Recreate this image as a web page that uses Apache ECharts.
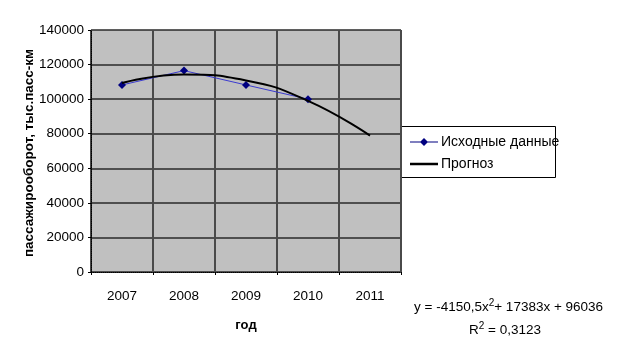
<!DOCTYPE html>
<html><head><meta charset="utf-8">
<script src="https://cdn.jsdelivr.net/npm/echarts@6/dist/echarts.min.js"></script>
<style>html,body{margin:0;padding:0;background:#fff}#c{width:617px;height:363px}</style>
</head><body><div id="c"></div>
<script>
const years = ['2007', '2008', '2009', '2010', '2011'];
const sourceData = [108200, 116500, 108200, 100000, null];
const forecast = [109300, 114200, 110800, 99000, 78900];
const yTicks = [0, 20000, 40000, 60000, 80000, 100000, 120000, 140000];
const yTitle = 'пассажирооборот, тыс.пасс-км';

const chart = echarts.init(document.getElementById('c'), null, {renderer: 'canvas'});
const F = 'Liberation Sans, Arial, sans-serif';
chart.setOption({
  animation: false,
  backgroundColor: '#fff',
  grid: {left: 91, top: 30, width: 310, height: 242, show: true, backgroundColor: '#c0c0c0', borderWidth: 0},
  xAxis: {
    type: 'category', data: years, boundaryGap: true,
    name: 'год', nameLocation: 'middle', nameGap: 47,
    nameTextStyle: {fontFamily: F, fontSize: 13, fontWeight: 'bold', color: '#000'},
    axisLine: {lineStyle: {color: '#000', type: 'dotted', width: 1}},
    axisTick: {show: true, length: 3, lineStyle: {color: '#000'}},
    axisLabel: {fontFamily: F, fontSize: 13.5, color: '#000', margin: 17},
    splitLine: {show: true, lineStyle: {color: '#4a4a4a', width: 2}}
  },
  yAxis: {
    type: 'value', min: yTicks[0], max: yTicks[yTicks.length - 1], interval: 20000,
    axisLine: {show: true, lineStyle: {color: '#000', type: 'dotted', width: 1}},
    axisTick: {show: true, length: 3, lineStyle: {color: '#000'}},
    axisLabel: {fontFamily: F, fontSize: 13.5, color: '#000', margin: 7, formatter: v => String(v)},
    splitLine: {show: true, lineStyle: {color: '#2a2a2a', width: 1.5}}
  },
  legend: {
    orient: 'vertical', left: 410, top: 135, itemGap: 8, padding: 0,
    itemWidth: 28, itemHeight: 10,
    textStyle: {fontFamily: F, fontSize: 14, color: '#000', padding: [0, 0, 0, -2]},
    data: [
      {name: 'Исходные данные', icon: 'path://M0,4.5L28,4.5L28,5.5L0,5.5Z M14,1L18,5L14,9L10,5Z'},
      {name: 'Прогноз', icon: 'path://M0,4L28,4L28,6.5L0,6.5Z'}
    ]
  },
  graphic: [
    {type: 'text', x: 29, y: 153, rotation: Math.PI / 2, style: {
      text: yTitle, font: 'bold 13.5px Liberation Sans, Arial, sans-serif', fill: '#000',
      align: 'center', verticalAlign: 'middle'}},
    {type: 'rect', shape: {x: 400.5, y: 126.5, width: 155, height: 51}, style: {fill: 'none', stroke: '#000', lineWidth: 1}, z: 0},
    {type: 'text', left: 414, top: 298, style: {
      rich: {n: {fontFamily: F, fontSize: 13.5, fill: '#000'}, s: {fontFamily: F, fontSize: 10, fill: '#000', padding: [0,0,9,0]}},
      text: '{n|y = -4150,5x}{s|2}{n|+ 17383x + 96036}'}},
    {type: 'text', left: 469, top: 321, style: {
      rich: {n: {fontFamily: F, fontSize: 13.5, fill: '#000'}, s: {fontFamily: F, fontSize: 10, fill: '#000', padding: [0,0,9,0]}},
      text: '{n|R}{s|2}{n| = 0,3123}'}}
  ],
  series: [
    {name: 'Исходные данные', type: 'line', data: sourceData, symbol: 'diamond', symbolSize: 8,
     lineStyle: {color: '#3b3bd0', width: 1}, itemStyle: {color: '#000080'}, z: 3},
    {name: 'Прогноз', type: 'line', data: forecast, smooth: 0.5, symbol: 'none',
     lineStyle: {color: '#000', width: 2}, itemStyle: {color: '#000'}, z: 4}
  ]
});
</script></body></html>
